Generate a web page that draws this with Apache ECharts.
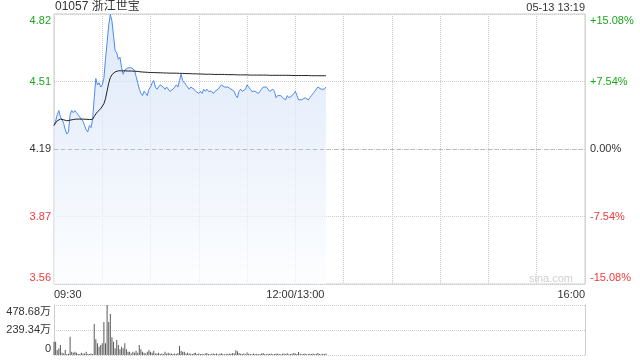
<!DOCTYPE html>
<html><head><meta charset="utf-8">
<script src="https://cdn.jsdelivr.net/npm/echarts@6/dist/echarts.min.js"></script>
<style>html,body{margin:0;padding:0;background:#fff}#c{width:640px;height:360px}</style>
</head><body><div id="c"></div>
<script>
const titleText = '01057 浙江世宝';
const stampText = '05-13 13:19';
const watermark = 'sina.com';
const prevClose = 4.19;
const priceMin = 3.558, priceMax = 4.822, priceStep = 0.316;
const pctMax = 15.08, pctStep = 7.54;
const volMax = 478.68, volStep = 239.34;
const priceTicks = ['3.56','3.87','4.19','4.51','4.82'];
const pctTicks = ['-15.08%','-7.54%','0.00%','+7.54%','+15.08%'];
const volTicks = ['0','239.34万','478.68万'];
const timeTicks = {0:'09:30',150:'12:00/13:00',330:'16:00'};
const totalMinutes = 330;

const price = [
4.30,4.32,4.35,4.37,4.34,4.33,4.31,4.28,4.26,4.27,
4.35,4.37,4.36,4.37,4.36,4.35,4.34,4.34,4.32,4.30,
4.28,4.27,4.30,4.29,4.33,4.43,4.52,4.49,4.50,4.48,
4.49,4.52,4.61,4.69,4.77,4.82,4.79,4.72,4.65,4.64,
4.61,4.62,4.57,4.54,4.56,4.56,4.57,4.57,4.57,4.57,
4.56,4.53,4.50,4.47,4.45,4.44,4.46,4.45,4.44,4.47,
4.48,4.50,4.51,4.48,4.47,4.48,4.49,4.49,4.48,4.47,
4.48,4.48,4.46,4.46,4.47,4.48,4.49,4.48,4.51,4.54,
4.51,4.50,4.49,4.48,4.47,4.48,4.48,4.47,4.46,4.46,
4.45,4.46,4.45,4.47,4.46,4.47,4.46,4.46,4.46,4.45,
4.46,4.46,4.47,4.48,4.49,4.49,4.48,4.48,4.48,4.48,
4.47,4.47,4.46,4.44,4.43,4.46,4.47,4.46,4.46,4.47,
4.49,4.48,4.47,4.46,4.46,4.46,4.46,4.45,4.46,4.47,
4.48,4.48,4.48,4.48,4.46,4.46,4.47,4.46,4.43,4.44,
4.44,4.44,4.43,4.43,4.42,4.44,4.43,4.43,4.44,4.45,
4.46,4.44,4.42,4.42,4.42,4.42,4.43,4.43,4.42,4.43,
4.44,4.45,4.46,4.47,4.48,4.48,4.47,4.47,4.47,4.48
];
const avg = [
4.300,4.312,4.322,4.330,4.330,4.329,4.327,4.324,4.322,4.322,
4.325,4.327,4.328,4.329,4.330,4.330,4.330,4.330,4.330,4.329,
4.329,4.328,4.328,4.328,4.329,4.342,4.354,4.364,4.371,4.378,
4.385,4.402,4.425,4.462,4.498,4.524,4.538,4.546,4.551,4.554,
4.556,4.556,4.556,4.556,4.556,4.556,4.555,4.555,4.555,4.554,
4.554,4.553,4.553,4.552,4.551,4.551,4.550,4.550,4.549,4.549,
4.548,4.548,4.548,4.548,4.547,4.547,4.547,4.547,4.546,4.546,
4.546,4.546,4.545,4.545,4.545,4.545,4.545,4.544,4.544,4.544,
4.544,4.543,4.543,4.543,4.543,4.542,4.542,4.542,4.542,4.541,
4.541,4.541,4.541,4.541,4.540,4.540,4.540,4.540,4.540,4.540,
4.539,4.539,4.539,4.539,4.539,4.539,4.539,4.538,4.538,4.538,
4.538,4.538,4.538,4.538,4.537,4.537,4.537,4.537,4.537,4.537,
4.537,4.537,4.536,4.536,4.536,4.536,4.536,4.536,4.536,4.536,
4.536,4.536,4.536,4.535,4.535,4.535,4.535,4.535,4.535,4.535,
4.535,4.535,4.535,4.535,4.535,4.535,4.535,4.534,4.534,4.534,
4.534,4.534,4.534,4.534,4.534,4.534,4.534,4.534,4.534,4.534,
4.533,4.533,4.533,4.533,4.533,4.533,4.533,4.533,4.533,4.533
];
const volume = [
127,127,48,64,96,22,15,48,10,12,
175,32,22,32,22,10,10,22,15,15,
32,10,10,15,10,297,150,112,80,96,
112,316,112,478.68,316,392,170,127,64,143,
96,54,80,64,112,54,32,32,15,32,
22,40,22,96,54,32,22,15,32,48,
32,22,40,15,15,22,10,15,10,32,
15,22,15,15,10,15,10,20,86,40,
32,32,15,22,15,12,10,18,22,10,
15,10,12,8,14,18,10,8,12,15,
10,14,8,12,16,10,8,12,10,15,
12,20,14,45,35,18,12,10,14,8,
25,12,10,8,14,10,12,8,10,14,
20,10,8,12,10,14,8,10,15,12,
10,8,12,14,10,16,8,10,12,20,
14,10,28,12,8,10,14,8,10,12,
10,14,8,12,18,10,8,12,10,14
];

const FONT = 'Arial, "Liberation Sans", "Noto Sans CJK SC", sans-serif';
const GREEN = '#1ea51e', RED = '#f03a3a', DARK = '#333';
const GRIDC = '#cccccc';
const richBase = (color) => ({
  n: {color, fontSize: 11, fontFamily: FONT},
  t: {color, fontSize: 11, fontFamily: FONT, padding: [13, 0, 0, 0]},
  b: {color, fontSize: 11, fontFamily: FONT, padding: [0, 0, 13, 0]}
});
function tickIdx(v, min, step) { return Math.round((v - min) / step); }
function wrap(idx, last, txt) {
  if (idx === last) return '{t|' + txt + '}';
  if (idx === 0) return '{b|' + txt + '}';
  return '{n|' + txt + '}';
}
function makeRich() {
  const r = {};
  [['r', RED], ['d', DARK], ['g', GREEN]].forEach(([k, c]) => {
    const rb = richBase(c);
    r[k + 'n'] = rb.n; r[k + 't'] = rb.t; r[k + 'b'] = rb.b;
  });
  return r;
}
function colorWrap(idx, last, txt) {
  const k = idx < 2 ? 'r' : (idx === 2 ? 'd' : 'g');
  const pos = idx === last ? 't' : (idx === 0 ? 'b' : 'n');
  return '{' + k + pos + '|' + txt + '}';
}

const chart = echarts.init(document.getElementById('c'), null, {renderer: 'canvas'});
chart.setOption({
  animation: false,
  backgroundColor: '#fff',
  textStyle: {fontFamily: FONT},
  grid: [
    {left: 54, right: 55, top: 14, height: 270, show: true, borderColor: GRIDC, borderWidth: 1},
    {left: 54, right: 55, top: 305, height: 50, show: false}
  ],
  xAxis: [
    {type: 'value', gridIndex: 0, min: 0, max: totalMinutes, interval: 30,
     axisLine: {show: false}, axisTick: {show: false},
     splitLine: {show: true, lineStyle: {color: GRIDC, type: 'dotted', width: 1}},
     axisLabel: {show: true, margin: 5, color: DARK, fontSize: 11, fontFamily: FONT,
       alignMinLabel: 'left', alignMaxLabel: 'right',
       formatter: (v) => timeTicks[v] || ''}},
    {type: 'value', gridIndex: 1, min: 0, max: totalMinutes, interval: 30,
     axisLine: {show: false}, axisTick: {show: false}, splitLine: {show: false},
     axisLabel: {show: false}}
  ],
  yAxis: [
    {type: 'value', gridIndex: 0, position: 'left', min: priceMin, max: priceMax, interval: priceStep,
     axisLine: {show: false}, axisTick: {show: false},
     splitLine: {show: true, lineStyle: {color: GRIDC, type: 'dotted', width: 1}},
     axisLabel: {margin: 3, rich: makeRich(),
       formatter: (v) => { const i = tickIdx(v, priceMin, priceStep); return colorWrap(i, 4, priceTicks[i]); }}},
    {type: 'value', gridIndex: 0, position: 'right', min: -pctMax, max: pctMax, interval: pctStep,
     axisLine: {show: false}, axisTick: {show: false}, splitLine: {show: false},
     axisLabel: {margin: 5, rich: makeRich(),
       formatter: (v) => { const i = tickIdx(v, -pctMax, pctStep); return colorWrap(i, 4, pctTicks[i]); }}},
    {type: 'value', gridIndex: 1, position: 'left', min: 0, max: volMax, interval: volStep,
     axisLine: {show: true, lineStyle: {color: GRIDC}}, axisTick: {show: false},
     splitLine: {show: true, lineStyle: {color: GRIDC, type: 'dotted', width: 1}},
     axisLabel: {margin: 3, rich: richBase(DARK),
       formatter: (v) => { const i = tickIdx(v, 0, volStep); return wrap(i, 2, volTicks[i]); }}},
    {type: 'value', gridIndex: 1, position: 'right', min: 0, max: volMax, interval: volStep,
     axisLine: {show: true, lineStyle: {color: GRIDC}}, axisTick: {show: false},
     splitLine: {show: false}, axisLabel: {show: false}}
  ],
  series: [
    {type: 'line', name: 'price', xAxisIndex: 0, yAxisIndex: 0,
     data: price.map((p, i) => [i, p]), showSymbol: false, symbol: 'none',
     lineStyle: {color: '#4d8aef', width: 1},
     areaStyle: {origin: 'start', color: new echarts.graphic.LinearGradient(0, 0, 0, 1, [
       {offset: 0, color: '#cfdff8'}, {offset: 0.5, color: '#e6eefb'}, {offset: 1, color: '#fbfdff'}])},
     markLine: {silent: true, symbol: 'none', label: {show: false},
       lineStyle: {color: '#bbbbbb', type: [4, 3], width: 1},
       data: [{yAxis: prevClose}]},
     z: 2},
    {type: 'line', name: 'avg', xAxisIndex: 0, yAxisIndex: 0,
     data: avg.map((p, i) => [i, p]), showSymbol: false, symbol: 'none',
     lineStyle: {color: '#222', width: 1}, z: 3},
    {type: 'bar', name: 'volume', xAxisIndex: 1, yAxisIndex: 2,
     data: volume.map((v, i) => [i, v]), barWidth: 1,
     itemStyle: {color: '#5a5a5a'}}
  ],
  graphic: [
    {type: 'text', x: 55, y: 7, style: {text: titleText, fill: DARK, font: '12px ' + FONT, verticalAlign: 'middle', align: 'left'}},
    {type: 'text', x: 585, y: 7.5, style: {text: stampText, fill: DARK, font: '11px ' + FONT, verticalAlign: 'middle', align: 'right'}},
    {type: 'text', x: 573, y: 279, style: {text: watermark, fill: '#cfcfcf', font: '11px ' + FONT, verticalAlign: 'middle', align: 'right'}}
  ]
});
</script>
</body></html>
